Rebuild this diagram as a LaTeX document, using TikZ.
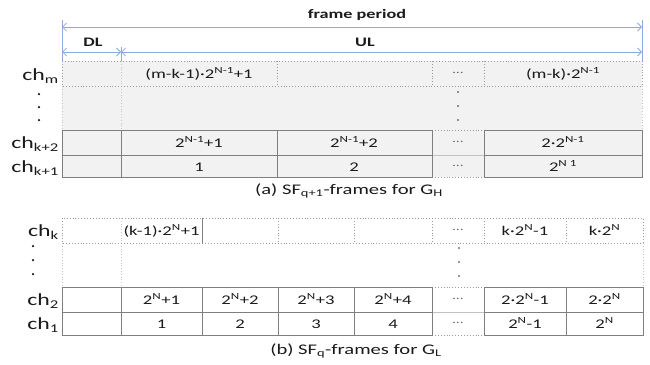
\documentclass[tikz,border=0pt]{standalone}
\usepackage{fontspec}
\setmainfont[FakeStretch=1.4]{Carlito}
\usetikzlibrary{arrows.meta}
\definecolor{bl}{HTML}{8FAADC}
\definecolor{gfill}{HTML}{F2F2F2}
\definecolor{sline}{HTML}{7F7F7F}
\definecolor{dline}{HTML}{9A9A9A}
\definecolor{txt}{HTML}{1A1A1A}
\begin{document}
\begin{tikzpicture}[x=1pt,y=-1pt,
  solidline/.style={draw=sline,line width=0.9pt},
  dotline/.style={draw=dline,line width=0.9pt,dotted},
  faint/.style={draw=dline!55,line width=0.8pt,dotted},
  midline/.style={draw=dline!60,line width=0.8pt},
  cell/.style={font=\fontsize{13.3}{15}\selectfont,text=txt,inner sep=0pt,text height=8.6pt,text depth=0pt,anchor=center},
  ell/.style={font=\fontsize{11}{13}\selectfont,text=black!60,inner sep=0pt,anchor=center},
  lbl/.style={font=\fontsize{17}{20}\selectfont,text=txt,inner sep=0pt,text height=11.5pt,text depth=0pt,anchor=east},
  captxt/.style={font=\fontsize{14.7}{17}\selectfont,text=txt,inner sep=0pt,text height=10pt,text depth=0pt},
  hdr/.style={font=\bfseries\fontsize{13}{15}\selectfont,text=txt,inner sep=0pt,text height=9pt,text depth=0pt},
  dim/.style={draw=bl,line width=0.8pt,{Straight Barb[length=4pt,width=8pt]}-{Straight Barb[length=4pt,width=8pt]}},
  tick/.style={draw=bl,line width=0.8pt},
  vdot/.style={circle,fill=black!55,inner sep=0pt,minimum size=2.2pt},
  ldot/.style={circle,fill=txt,inner sep=0pt,minimum size=2.5pt}
]
\useasboundingbox (0,0) rectangle (650,364);

% ---------- header dimensions ----------
\coordinate (fpL) at (62,27);
\coordinate (fpR) at (642,27);
\coordinate (dlL) at (62,52);
\coordinate (dlR) at (121,52);
\coordinate (ulR) at (642,52);
\coordinate (tL1) at (62,20);
\coordinate (tL2) at (62,61);
\coordinate (tR1) at (642,20);
\coordinate (tR2) at (642,61);
\coordinate (tM1) at (121,47);
\coordinate (tM2) at (121,61);
\draw[tick] (tL1) -- (tL2);
\draw[tick] (tR1) -- (tR2);
\draw[tick] (tM1) -- (tM2);
\draw[dim] (fpL) -- (fpR);
\draw[dim] (dlL) -- (dlR);
\draw[dim] (dlR) -- (ulR);
\node[hdr] (fp) at (357,14) {frame period};
\node[hdr] (dl) at (93,42) {DL};
\node[hdr] (ul) at (365,42) {UL};

% ---------- table (a) ----------
\fill[gfill] (62,61) rectangle (642,177);
\draw[faint] (121,61) -- (121,130);
\draw[faint] (62,86) -- (62,130);
\draw[faint] (642,86) -- (642,130);
\draw[dotline] (62,61) rectangle (642,86);
\foreach \x in {277,432,484} \draw[dotline] (\x,61) -- (\x,86);
\draw[dotline] (432,130) -- (484,130);
\draw[dotline] (432,177) -- (484,177);
\draw[midline] (432,155) -- (484,155);
\draw[solidline] (62,130) rectangle (432,177);
\draw[solidline] (62,155) -- (432,155);
\foreach \x in {121,277} \draw[solidline] (\x,130) -- (\x,177);
\draw[solidline] (484,130) rectangle (642,177);
\draw[solidline] (484,155) -- (642,155);

\node[cell] (am1) at (199,74) {(m-k-1)·2\textsuperscript{N-1}+1};
\node[ell]  (am3) at (458,73) {…};
\node[cell] (am4) at (563,74) {(m-k)·2\textsuperscript{N-1}};
\node[vdot] (av1) at (458,92) {};
\node[vdot] (av2) at (458,106) {};
\node[vdot] (av3) at (458,120) {};
\node[cell] (ak1) at (199,143) {2\textsuperscript{N-1}+1};
\node[cell] (ak2) at (354,143) {2\textsuperscript{N-1}+2};
\node[ell]  (ak3) at (458,142) {…};
\node[cell] (ak4) at (563,143) {2·2\textsuperscript{N-1}};
\node[cell] (aj1) at (199,167) {1};
\node[cell] (aj2) at (354,167) {2};
\node[ell]  (aj3) at (458,166) {…};
\node[cell] (aj4) at (563,167) {2\textsuperscript{N 1}};

\node[lbl] (lm) at (59,75) {ch\textsubscript{m}};
\node[ldot] (ld1) at (39,94) {};
\node[ldot] (ld2) at (39,107) {};
\node[ldot] (ld3) at (39,120) {};
\node[lbl] (lk2) at (59,143) {ch\textsubscript{k+2}};
\node[lbl] (lk1) at (59,167) {ch\textsubscript{k+1}};

\node[captxt] (capa) at (349,189) {(a) SF\textsubscript{q+1}-frames for G\textsubscript{H}};

% ---------- table (b) ----------
\draw[faint] (121,218) -- (121,243);
\draw[faint] (62,243) -- (62,287);
\draw[faint] (121,243) -- (121,287);
\draw[faint] (643,243) -- (643,287);
\draw[dotline] (62,218) rectangle (643,243);
\foreach \x in {278,354,432,484,566} \draw[dotline] (\x,218) -- (\x,243);
\draw[solidline] (202,218) -- (202,243);
\draw[dotline] (432,287) -- (484,287);
\draw[dotline] (432,335) -- (484,335);
\draw[midline] (432,312) -- (484,312);
\draw[solidline] (62,287) rectangle (432,335);
\draw[solidline] (62,312) -- (432,312);
\foreach \x in {121,202,278,354} \draw[solidline] (\x,287) -- (\x,335);
\draw[solidline] (484,287) rectangle (643,335);
\draw[solidline] (484,312) -- (643,312);
\draw[solidline] (566,287) -- (566,335);

\node[cell] (bk1) at (161.5,231) {(k-1)·2\textsuperscript{N}+1};
\node[ell]  (bk2) at (458,230) {…};
\node[cell] (bk3) at (525,231) {k·2\textsuperscript{N}-1};
\node[cell] (bk4) at (604.5,231) {k·2\textsuperscript{N}};
\node[vdot] (bv1) at (459,248) {};
\node[vdot] (bv2) at (459,262) {};
\node[vdot] (bv3) at (459,276) {};
\node[cell] (b21) at (161.5,300) {2\textsuperscript{N}+1};
\node[cell] (b22) at (240,300) {2\textsuperscript{N}+2};
\node[cell] (b23) at (316,300) {2\textsuperscript{N}+3};
\node[cell] (b24) at (393,300) {2\textsuperscript{N}+4};
\node[ell]  (b25) at (458,299) {…};
\node[cell] (b26) at (525,300) {2·2\textsuperscript{N}-1};
\node[cell] (b27) at (604.5,300) {2·2\textsuperscript{N}};
\node[cell] (b11) at (161.5,324) {1};
\node[cell] (b12) at (240,324) {2};
\node[cell] (b13) at (316,324) {3};
\node[cell] (b14) at (393,324) {4};
\node[ell]  (b15) at (458,323) {…};
\node[cell] (b16) at (525,324) {2\textsuperscript{N}-1};
\node[cell] (b17) at (604.5,324) {2\textsuperscript{N}};

\node[lbl] (lk) at (59,231) {ch\textsubscript{k}};
\node[ldot] (le1) at (33,246) {};
\node[ldot] (le2) at (33,260) {};
\node[ldot] (le3) at (33,274) {};
\node[lbl] (l2) at (59,300) {ch\textsubscript{2}};
\node[lbl] (l1) at (59,324) {ch\textsubscript{1}};

\node[captxt] (capb) at (356,349) {(b) SF\textsubscript{q}-frames for G\textsubscript{L}};
\end{tikzpicture}
\end{document}
